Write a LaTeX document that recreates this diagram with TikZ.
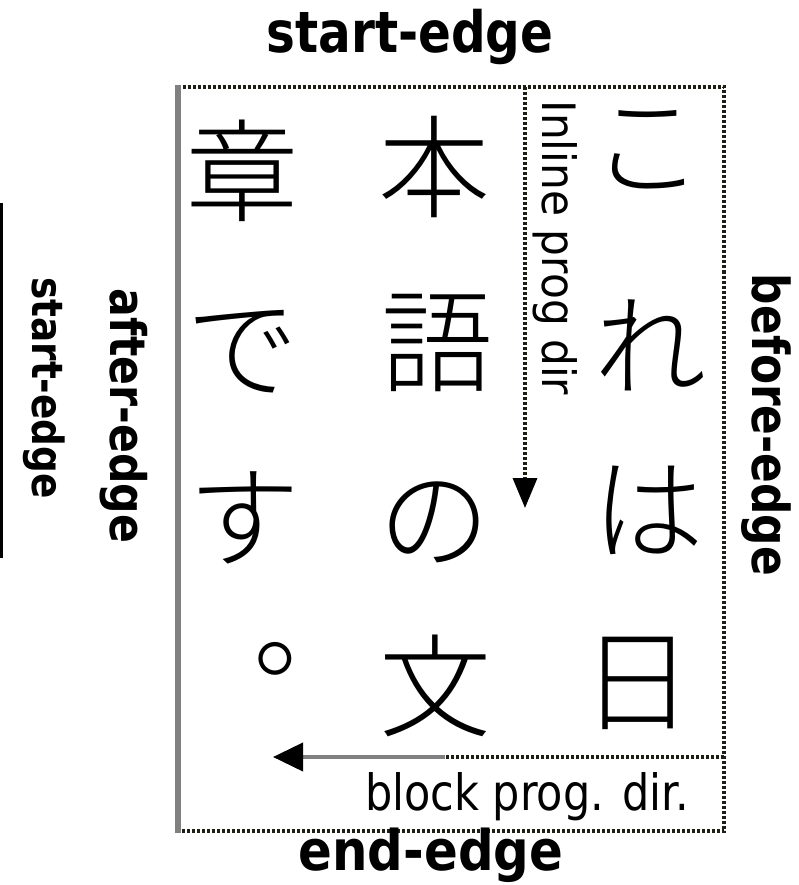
\documentclass[tikz,border=0pt]{standalone}
\usepackage{fontspec}
\usepackage{graphicx}
\setmainfont{DejaVu Sans}
\IfFontExistsTF{Noto Sans CJK JP Light}{\newfontfamily\jpfont{Noto Sans CJK JP Light}}{\newfontfamily\jpfont{Noto Sans CJK JP}}
\usetikzlibrary{arrows.meta}
\definecolor{edgegray}{RGB}{128,128,128}
\definecolor{dotcol}{RGB}{30,30,20}
\newcommand\lbltext[3]{\scalebox{#2}[1]{\fontsize{#1}{#1}\selectfont #3}}
\begin{document}
\begin{tikzpicture}[x=1pt,y=-1pt,
  lbl/.style={inner sep=0pt, outer sep=0pt, anchor=base},
  jch/.style={inner sep=0pt, outer sep=0pt, font=\jpfont\fontsize{112}{112}\selectfont},
  leftedge/.style={draw=edgegray, line width=6pt},
  dotedge/.style={draw=dotcol, line width=3.5pt, dash pattern=on 3pt off 2pt},
  grayline/.style={draw=edgegray, line width=4pt},
  tipi/.style={-{Triangle[length=30pt,width=24pt,color=black]}},
  tipb/.style={-{Triangle[length=30pt,width=28pt,color=black]}},
]
\useasboundingbox (0,0) rectangle (798,885);
\fill[white] (0,0) rectangle (798,885);

% frame
\coordinate (tl) at (177.5,87);
\coordinate (tr) at (724,87);
\coordinate (br) at (724,831);
\coordinate (bl) at (177.5,831);
\draw[dotedge] (tl) -- (tr) -- (br) -- (bl);
\draw[leftedge] ([yshift=1.5pt]tl) -- ([yshift=-1.5pt]bl);

% left bar
\coordinate (ll0) at (1.5,203);
\coordinate (ll1) at (1.5,558);
\draw[line width=3pt] (ll0) -- (ll1);

% inline progression arrow
\coordinate (ia0) at (525,87);
\coordinate (ia1) at (525,508);
\draw[dotedge, tipi] (ia0) -- (ia1);

% block progression arrow
\coordinate (ba0) at (724,757);
\coordinate (bam) at (445,757);
\coordinate (ba1) at (273,757);
\draw[dotedge] (ba0) -- (bam);
\draw[grayline, tipb] (bam) -- (ba1);

% labels
\node[lbl] (topedge) at (410,53) {\bfseries\lbltext{57}{0.85}{start-edge}};
\node[lbl] (endedge) at (431,870) {\bfseries\lbltext{56}{0.89}{end-edge}};
\node[lbl, rotate=-90] (leftstart) at (32,388) {\bfseries\lbltext{43}{0.87}{start-edge}};
\node[lbl, rotate=-90] (afteredge) at (110,416) {\bfseries\lbltext{49}{0.87}{after-edge}};
\node[lbl, rotate=-90] (beforeedge) at (752,425) {\bfseries\lbltext{51}{0.86}{before-edge}};
\node[lbl, rotate=-90] (inlinelbl) at (542,248) {\lbltext{46}{0.92}{Inline prog dir}};
\node[lbl] (blocklbl) at (527,810) {\lbltext{50}{0.86}{block prog. dir.}};

% Japanese text, vertical columns right to left
\node[jch] (c11) at (647,150) {こ};
\node[jch] (c12) at (650,345) {れ};
\node[jch] (c13) at (648,510) {は};
\node[jch] (c14) at (637,683) {日};
\node[jch] (c21) at (434,167) {本};
\node[jch] (c22) at (437,343) {語};
\node[jch] (c23) at (434,522) {の};
\node[jch] (c24) at (435,686) {文};
\node[jch] (c31) at (242,171) {章};
\node[jch] (c32) at (242,352) {で};
\node[jch] (c33) at (244,518) {す};
\node[jch] (c34) at (309,659) {。};
\end{tikzpicture}
\end{document}
